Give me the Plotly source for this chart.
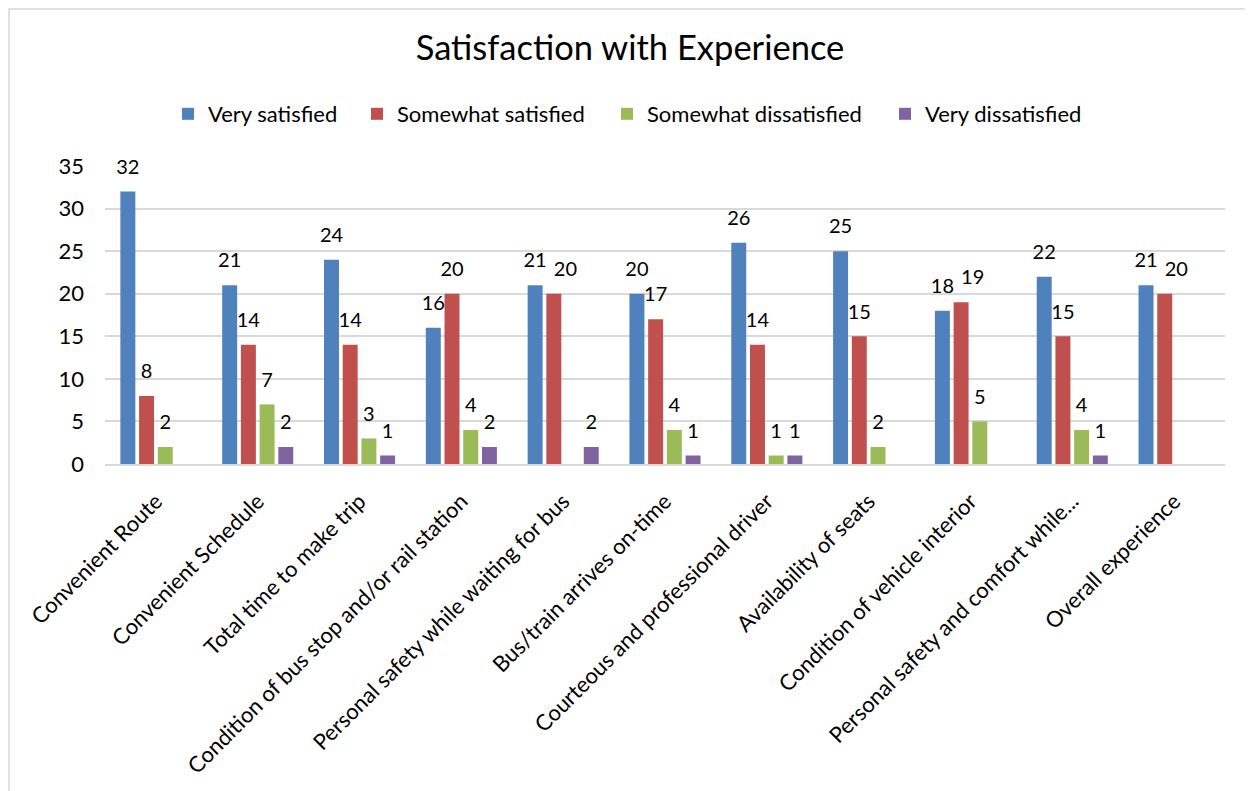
import plotly.graph_objects as go

categories = [
    "Convenient Route",
    "Convenient Schedule",
    "Total time to make trip",
    "Condition of bus stop and/or rail station",
    "Personal safety while waiting for bus",
    "Bus/train arrives on-time",
    "Courteous and professional driver",
    "Availability of seats",
    "Condition of vehicle interior",
    "Personal safety and comfort while...",
    "Overall experience",
]
very_satisfied = [32, 21, 24, 16, 21, 20, 26, 25, 18, 22, 21]
somewhat_satisfied = [8, 14, 14, 20, 20, 17, 14, 15, 19, 15, 20]
somewhat_dissatisfied = [2, 7, 3, 4, None, 4, 1, 2, 5, 4, None]
very_dissatisfied = [None, 2, 1, 2, 2, 1, 1, None, None, 1, None]

series_names = ["Very satisfied", "Somewhat satisfied", "Somewhat dissatisfied", "Very dissatisfied"]
series_values = [very_satisfied, somewhat_satisfied, somewhat_dissatisfied, very_dissatisfied]
colors = ["#4F81BD", "#C0504D", "#9BBB59", "#8064A2"]

# data labels that the reference nudges sideways to avoid collisions: (series, category) -> position
label_nudges = {(1, 4): "top right", (1, 8): "top right", (1, 10): "top right"}

FONT = "Lato, 'Open Sans', sans-serif"
LABEL_LIFT = 1.5  # gap (axis units) between bar top and its data label

# page body has an 8px margin; reference pixel coords are converted accordingly
OFF = 8
W, H = 1253, 791
plot_l, plot_r, plot_t, plot_b = 105, 1225, 166, 464  # reference pixel coords
ml = plot_l - OFF
mr = W - (plot_r - OFF)
mt = plot_t - OFF
mb = H - (plot_b - OFF)
pw = W - ml - mr
ph = H - mt - mb


def px_x(x):
    return (x - OFF - ml) / pw


def px_y(y):
    return (H - mb - (y - OFF)) / ph


fig = go.Figure()
legend_ids = ["legend", "legend2", "legend3", "legend4"]
for i, (name, vals, col) in enumerate(zip(series_names, series_values, colors)):
    grp = "g%d" % i
    fig.add_trace(go.Bar(
        name=name,
        x=categories,
        y=vals,
        offsetgroup=grp,
        marker=dict(color=col, line=dict(width=0)),
        legend=legend_ids[i],
        hoverinfo="x+y+name",
    ))
    fig.add_trace(go.Scatter(
        name=name,
        x=categories,
        y=[None if v is None else v + LABEL_LIFT for v in vals],
        offsetgroup=grp,
        mode="text",
        text=[("" if v is None else str(v)) for v in vals],
        textposition=[label_nudges.get((i, j), "top center") for j in range(len(vals))],
        textfont=dict(size=20, color="#000000", family=FONT),
        cliponaxis=False,
        showlegend=False,
        hoverinfo="skip",
    ))

legend_text_x = [208, 397, 647, 925]
legend_common = dict(
    orientation="h",
    xanchor="left",
    yanchor="middle",
    font=dict(size=22, color="#000000", family=FONT),
    bgcolor="rgba(0,0,0,0)",
    borderwidth=0,
)
legends = {}
for lid, tx in zip(legend_ids, legend_text_x):
    legends[lid] = dict(legend_common, x=px_x(tx - 40), y=px_y(114))

fig.update_layout(
    width=W,
    height=H,
    margin=dict(l=ml, r=mr, t=mt, b=mb, pad=0),
    paper_bgcolor="white",
    plot_bgcolor="white",
    barmode="group",
    bargap=0.265,
    bargroupgap=0.2,
    scattermode="group",
    scattergap=0.265,
    font=dict(family=FONT, size=22, color="#000000"),
    title=dict(
        text="Satisfaction with Experience",
        x=px_x(630), xref="paper", xanchor="center",
        y=1 - (48 - OFF) / H, yref="container", yanchor="middle",
        font=dict(size=34.5, color="#000000", family=FONT),
    ),
    xaxis=dict(
        type="category",
        tickangle=-45,
        tickfont=dict(size=22, color="#000000", family=FONT),
        showline=True,
        linecolor="#d9d9d9",
        linewidth=1.5,
        ticks="",
        showgrid=False,
        automargin=False,
        ticklabelstandoff=14,
        ticklabelshift=0,
    ),
    yaxis=dict(
        range=[0, 35],
        dtick=5,
        tickfont=dict(size=22, color="#000000", family=FONT),
        showgrid=True,
        gridcolor="#d9d9d9",
        gridwidth=1.5,
        zeroline=False,
        showline=False,
        ticks="",
        ticklabelstandoff=20,
        automargin=False,
    ),
    shapes=[
        dict(
            type="rect", xref="paper", yref="paper",
            x0=px_x(OFF + 1), x1=px_x(W + 40), y0=px_y(H + 40), y1=px_y(OFF + 1),
            line=dict(color="#d9d9d9", width=1.5),
            fillcolor="rgba(0,0,0,0)",
            layer="below",
        )
    ],
    **legends,
)

fig.write_html("out.html")
